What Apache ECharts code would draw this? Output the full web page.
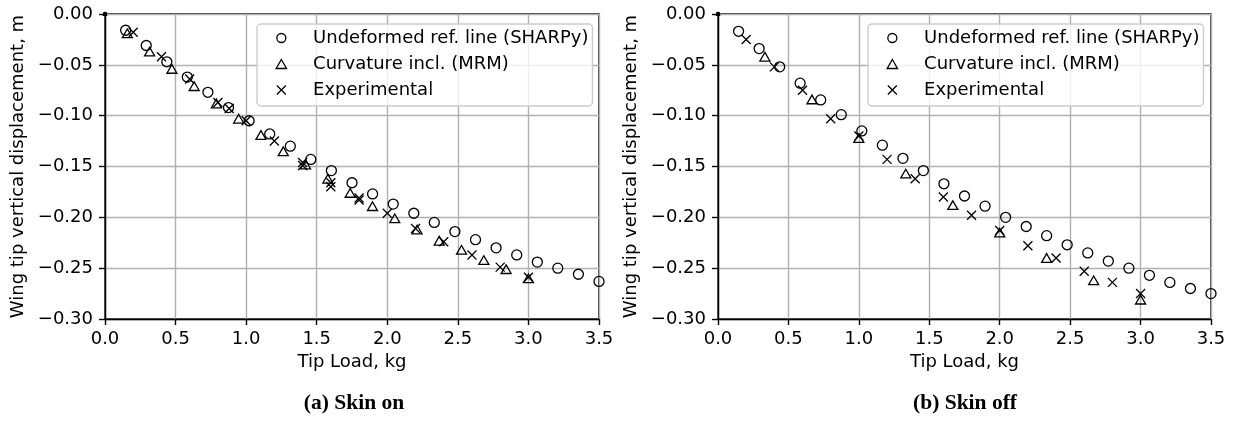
<!DOCTYPE html>
<html>
<head>
<meta charset="utf-8">
<script src="https://cdn.jsdelivr.net/npm/echarts@6/dist/echarts.min.js"></script>
<style>
  html, body { margin: 0; padding: 0; background: #fff; }
  #chart { width: 1233px; height: 430px; }
</style>
</head>
<body>
<div id="chart"></div>
<script>
// ---------- data ----------
const xTicks = [0.0, 0.5, 1.0, 1.5, 2.0, 2.5, 3.0, 3.5];
const yTicks = [0.00, -0.05, -0.10, -0.15, -0.20, -0.25, -0.30];
const seriesNames = ['Undeformed ref. line (SHARPy)', 'Curvature incl. (MRM)', 'Experimental'];
const captions = ['(a) Skin on', '(b) Skin off'];
const xLabel = 'Tip Load, kg';
const yLabel = 'Wing tip vertical displacement, m';

// (a) Skin on
const onUndefX = [0, 0.146, 0.292, 0.438, 0.583, 0.729, 0.875, 1.021, 1.167, 1.313, 1.458, 1.604, 1.750, 1.896, 2.042, 2.188, 2.333, 2.479, 2.625, 2.771, 2.917, 3.063, 3.208, 3.354, 3.5];
const onUndefY = [0, -0.016, -0.031, -0.047, -0.062, -0.077, -0.092, -0.105, -0.118, -0.130, -0.143, -0.154, -0.166, -0.177, -0.187, -0.196, -0.205, -0.214, -0.222, -0.230, -0.237, -0.244, -0.250, -0.256, -0.263];
const onCurvX = [0, 0.158, 0.316, 0.474, 0.632, 0.789, 0.947, 1.105, 1.263, 1.421, 1.579, 1.737, 1.895, 2.053, 2.211, 2.368, 2.526, 2.684, 2.842, 3.0];
const onCurvY = [0, -0.019, -0.037, -0.054, -0.071, -0.088, -0.103, -0.119, -0.135, -0.148, -0.162, -0.176, -0.189, -0.201, -0.212, -0.223, -0.232, -0.242, -0.251, -0.260];
const onExpX = [0, 0.2, 0.4, 0.6, 0.8, 0.88, 1.0, 1.2, 1.4, 1.4, 1.6, 1.6, 1.8, 1.8, 2.0, 2.2, 2.4, 2.6, 2.8, 3.0];
const onExpY = [0, -0.018, -0.042, -0.064, -0.087, -0.093, -0.105, -0.125, -0.146, -0.149, -0.166, -0.170, -0.181, -0.183, -0.196, -0.211, -0.224, -0.237, -0.249, -0.259];

// (b) Skin off
const offUndefX = [0, 0.146, 0.292, 0.438, 0.583, 0.729, 0.875, 1.021, 1.167, 1.313, 1.458, 1.604, 1.750, 1.896, 2.042, 2.188, 2.333, 2.479, 2.625, 2.771, 2.917, 3.063, 3.208, 3.354, 3.5];
const offUndefY = [0, -0.017, -0.034, -0.052, -0.068, -0.0845, -0.099, -0.115, -0.129, -0.142, -0.154, -0.167, -0.179, -0.189, -0.200, -0.209, -0.218, -0.227, -0.235, -0.243, -0.250, -0.257, -0.264, -0.270, -0.275];
const offCurvX = [0, 0.333, 0.667, 1.0, 1.333, 1.667, 2.0, 2.333, 2.667, 3.0];
const offCurvY = [0, -0.042, -0.084, -0.122, -0.157, -0.188, -0.215, -0.240, -0.262, -0.281];
const offExpX = [0, 0.2, 0.4, 0.6, 0.8, 1.0, 1.2, 1.4, 1.6, 1.8, 2.0, 2.2, 2.4, 2.6, 2.8, 3.0];
const offExpY = [0, -0.025, -0.052, -0.075, -0.103, -0.120, -0.143, -0.162, -0.180, -0.198, -0.213, -0.228, -0.240, -0.253, -0.264, -0.275];

// ---------- rendering ----------
const FONT = 'DejaVu Sans';
const FS = 18;
const LW = 1.4;
const TRI = 'path://M0,-1L0.866,0.5L-0.866,0.5Z';
const CROSS = 'path://M0,0L10,10M10,0L0,10';
const symbols = ['circle', TRI, CROSS];
const zip = (xs, ys) => xs.map((x, i) => [x, ys[i]]);

const chart = echarts.init(document.getElementById('chart'), null, { renderer: 'canvas' });

const grids = [
  { left: 105, top: 14, width: 494, height: 305 },
  { left: 718, top: 14, width: 493, height: 305 }
];

function fmtY(v) {
  if (Math.abs(v) < 1e-9) return '0.00';
  return (v < 0 ? '\u2212' : '') + Math.abs(v).toFixed(2);
}

function xAxis(gi) {
  return {
    gridIndex: gi, type: 'value', min: xTicks[0], max: xTicks[xTicks.length - 1],
    interval: xTicks[1] - xTicks[0],
    name: xLabel, nameLocation: 'middle', nameGap: 31,
    nameTextStyle: { fontFamily: FONT, fontSize: FS, color: '#000' },
    axisLine: { show: true, onZero: false, lineStyle: { color: '#000', width: LW } },
    axisTick: { show: true, inside: false, length: 6, lineStyle: { color: '#000', width: LW } },
    axisLabel: { margin: 11, fontFamily: FONT, fontSize: FS, color: '#000', formatter: v => v.toFixed(1) },
    splitLine: { show: true, lineStyle: { color: '#b0b0b0', width: LW } }
  };
}
function yAxis(gi) {
  return {
    gridIndex: gi, type: 'value', min: yTicks[yTicks.length - 1], max: yTicks[0],
    interval: yTicks[0] - yTicks[1],
    name: yLabel, nameLocation: 'middle', nameGap: 78, nameRotate: 90,
    nameTextStyle: { fontFamily: FONT, fontSize: FS, color: '#000' },
    axisLine: { show: true, onZero: false, lineStyle: { color: '#000', width: LW } },
    axisTick: { show: true, inside: false, length: 6, lineStyle: { color: '#000', width: LW } },
    axisLabel: { margin: 12, fontFamily: FONT, fontSize: FS, color: '#000', formatter: fmtY },
    splitLine: { show: true, lineStyle: { color: '#b0b0b0', width: LW } }
  };
}

function scatter(name, gi, data, sym, z) {
  return {
    type: 'scatter', name: name, xAxisIndex: gi, yAxisIndex: gi,
    data: data, symbol: sym, symbolKeepAspect: true,
    symbolSize: (v) => (v[0] === 0 && v[1] === 0 ? 3 : (sym === CROSS ? 9 : 10)),
    itemStyle: { color: 'rgba(0,0,0,0)', borderColor: '#000', borderWidth: 1.3, opacity: 1 },
    emphasis: { disabled: true },
    clip: true, z: z, silent: true
  };
}

function legend(gi, left) {
  return {
    orient: 'vertical', left: left, top: 24,
    data: seriesNames.map((n, i) => ({ name: n, icon: symbols[i] })),
    itemWidth: 31.5, itemHeight: 9, itemGap: 8,
    padding: [5, 4, 7, 18.5],
    backgroundColor: 'rgba(255,255,255,0.8)',
    borderColor: '#cccccc', borderWidth: 1.4, borderRadius: 4,
    selectedMode: false,
    itemStyle: { color: 'rgba(0,0,0,0)', borderColor: '#000', borderWidth: 1.3 },
    textStyle: { fontFamily: FONT, fontSize: FS, color: '#000', padding: [0, 0, 0, 11] }
  };
}

const option = {
  backgroundColor: '#fff',
  animation: false,
  grid: grids.map(g => Object.assign({ show: true, borderColor: '#000', borderWidth: LW, backgroundColor: 'rgba(0,0,0,0)' }, g)),
  xAxis: [xAxis(0), xAxis(1)],
  yAxis: [yAxis(0), yAxis(1)],
  legend: [legend(0, 257), legend(1, 868)],
  series: [
    scatter(seriesNames[0], 0, zip(onUndefX, onUndefY), symbols[0], 2),
    scatter(seriesNames[1], 0, zip(onCurvX, onCurvY), symbols[1], 3),
    scatter(seriesNames[2], 0, zip(onExpX, onExpY), symbols[2], 4),
    scatter(seriesNames[0], 1, zip(offUndefX, offUndefY), symbols[0], 2),
    scatter(seriesNames[1], 1, zip(offCurvX, offCurvY), symbols[1], 3),
    scatter(seriesNames[2], 1, zip(offExpX, offExpY), symbols[2], 4)
  ],
  graphic: [
    { type: 'text', x: 354, y: 403, style: { text: captions[0], fontFamily: 'Liberation Serif', fontWeight: 'bold', fontSize: 21.5, fill: '#000', textAlign: 'center', textVerticalAlign: 'middle' } },
    { type: 'text', x: 965, y: 403, style: { text: captions[1], fontFamily: 'Liberation Serif', fontWeight: 'bold', fontSize: 21.5, fill: '#000', textAlign: 'center', textVerticalAlign: 'middle' } }
  ]
};
chart.setOption(option);
</script>
</body>
</html>
